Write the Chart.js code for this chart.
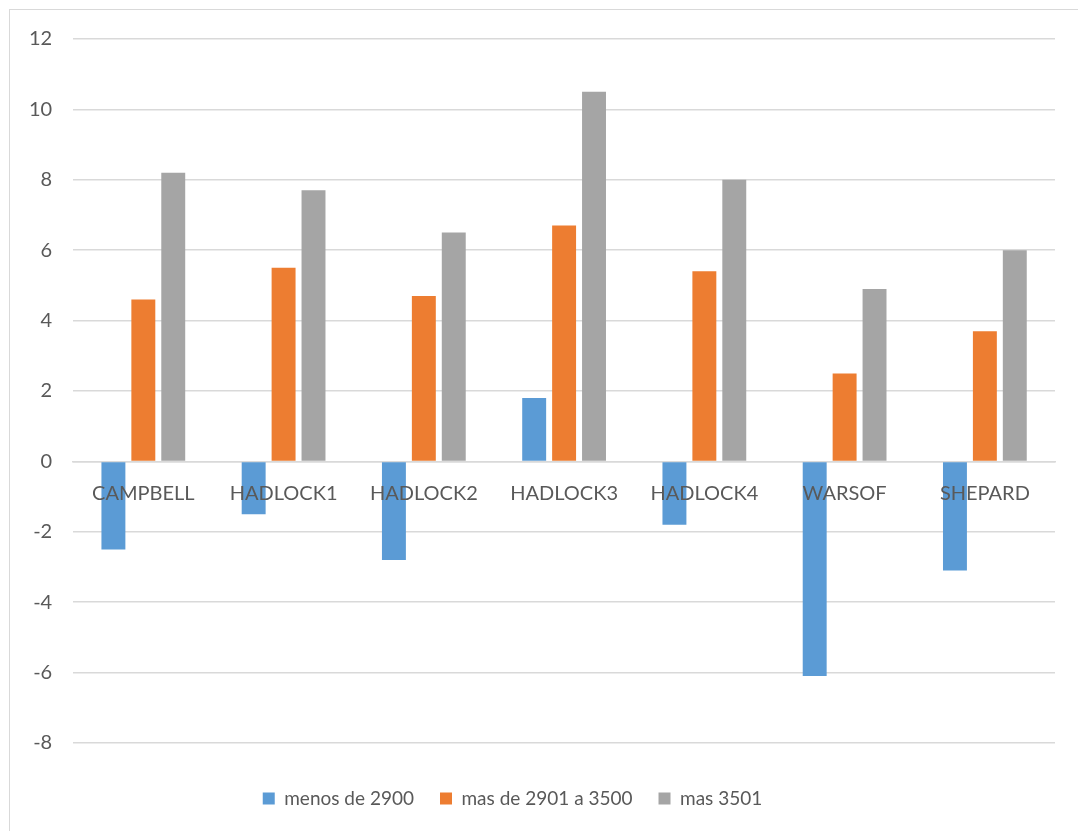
<!DOCTYPE html>
<html>
<head>
<meta charset="utf-8">
<script src="https://cdn.jsdelivr.net/npm/chart.js@4/dist/chart.umd.min.js"></script>
<style>
  html, body { margin: 0; padding: 0; background: #ffffff; overflow: hidden; }
  #wrap { position: relative; width: 1078px; height: 831px; }
  #frame { position: absolute; left: 9px; top: 9px; width: 1200px; height: 1000px; border: 1px solid #d9d9d9; box-sizing: border-box; pointer-events: none; }
  canvas { position: absolute; left: 0; top: 0; }
</style>
</head>
<body>
<div id="wrap">
  <div id="frame"></div>
  <canvas id="chart" width="1078" height="831"></canvas>
</div>
<script>
// Wells and the three weight-band series
const categories = ['CAMPBELL', 'HADLOCK1', 'HADLOCK2', 'HADLOCK3', 'HADLOCK4', 'WARSOF', 'SHEPARD'];
const seriesNames = ['menos de 2900', 'mas de 2901 a 3500', 'mas 3501'];
const menos2900 = [-2.5, -1.5, -2.8, 1.8, -1.8, -6.1, -3.1];
const de2901a3500 = [4.6, 5.5, 4.7, 6.7, 5.4, 2.5, 3.7];
const mas3501 = [8.2, 7.7, 6.5, 10.5, 8.0, 4.9, 6.0];
const seriesColors = ['#5B9BD5', '#ED7D31', '#A5A5A5'];
const yTicks = [-8, -6, -4, -2, 0, 2, 4, 6, 8, 10, 12];

const FONT = 'Lato, "Liberation Sans", sans-serif';
const TEXT = '#595959';
const GRID = '#d9d9d9';

const seriesValues = [menos2900, de2901a3500, mas3501];

// Nudge the key a little left so it sits centred under the whole frame
const keyShift = {
  id: 'keyShift',
  afterLayout(chart) {
    if (chart.legend) {
      chart.legend.left -= 19;
      chart.legend.right -= 19;
    }
  }
};

new Chart(document.getElementById('chart'), {
  type: 'bar',
  data: {
    labels: categories,
    datasets: seriesNames.map((name, i) => ({
      label: name,
      data: seriesValues[i],
      backgroundColor: seriesColors[i],
      borderWidth: 0,
      categoryPercentage: 0.64,
      barPercentage: 0.8
    }))
  },
  plugins: [keyShift],
  options: {
    responsive: false,
    devicePixelRatio: 1,
    animation: false,
    layout: { padding: { top: 39, right: 23, left: 8, bottom: 13 } },
    plugins: {
      tooltip: { enabled: false },
      legend: {
        position: 'bottom',
        // blank title only adds room between the plot and the key
        title: { display: true, text: '', font: { size: 11, lineHeight: 1 }, padding: { top: 4, bottom: 5 } },
        labels: {
          color: TEXT,
          font: { family: FONT, size: 19 },
          boxWidth: 12,
          boxHeight: 12,
          padding: 26
        }
      }
    },
    scales: {
      x: {
        position: { y: 0 },
        grid: { display: false },
        border: { display: true, color: GRID, width: 1.5 },
        ticks: {
          z: 1, // category names sit above the bars
          color: TEXT,
          font: { family: FONT, size: 20 },
          padding: 12,
          maxRotation: 0
        }
      },
      y: {
        min: yTicks[0],
        max: yTicks[yTicks.length - 1],
        afterBuildTicks: (scale) => { scale.ticks = yTicks.map(v => ({ value: v })); },
        grid: { color: GRID, lineWidth: 1.5, drawTicks: false },
        border: { display: false },
        ticks: {
          color: TEXT,
          font: { family: FONT, size: 20 },
          padding: 21
        }
      }
    }
  }
});
</script>
</body>
</html>
